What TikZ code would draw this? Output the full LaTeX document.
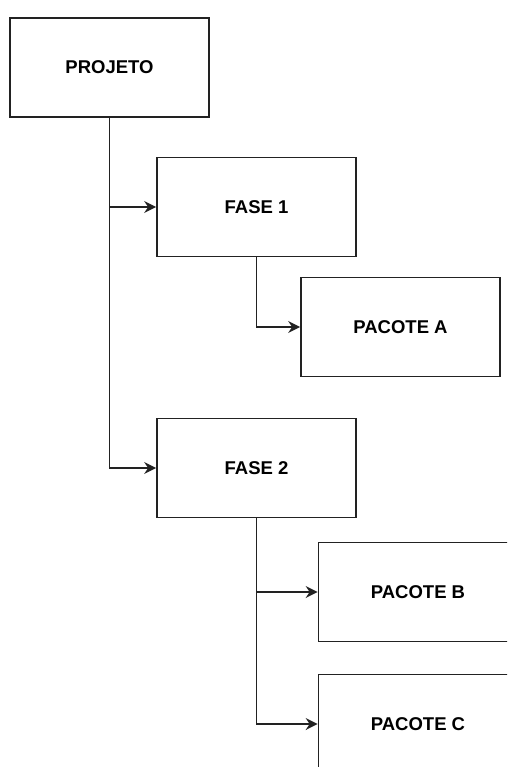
\documentclass[tikz,border=0pt]{standalone}
\usepackage{fontspec}
\setmainfont{Liberation Sans}
\usetikzlibrary{arrows.meta}
\definecolor{edge}{HTML}{222222}
\tikzset{
  wbsbox/.style={draw=edge, line width=1.7pt, fill=white, minimum width=199pt,
    minimum height=99pt, inner sep=0pt, font=\fontsize{18.5}{21}\selectfont\bfseries},
  link/.style={draw=edge, line width=1.7pt, -{Stealth[length=12pt,width=12pt,inset=4pt]}}
}
\begin{document}
\begin{tikzpicture}[x=1pt,y=-1pt]
  \useasboundingbox (0,0) rectangle (507,767);
  \clip (0,0) rectangle (507,767);
  \fill[white] (0,0) rectangle (507,767);
  % work breakdown boxes
  \node[wbsbox] (projeto) at (109.5,67.5) {PROJETO};
  \node[wbsbox] (fase1)   at (256.5,207)  {FASE 1};
  \node[wbsbox] (pacoteA) at (400.5,327)  {PACOTE A};
  \node[wbsbox] (fase2)   at (256.5,468)  {FASE 2};
  \node[wbsbox] (pacoteB) at (418,592)    {PACOTE B};
  \node[wbsbox] (pacoteC) at (418,724)    {PACOTE C};
  % elbow connectors
  \draw[link] (projeto.south) |- (fase1.west);
  \draw[link] (projeto.south) |- (fase2.west);
  \draw[link] (fase1.south) |- (pacoteA.west);
  \draw[link] (fase2.south) |- (pacoteB.west);
  \draw[link] (fase2.south) |- (pacoteC.west);
\end{tikzpicture}
\end{document}
